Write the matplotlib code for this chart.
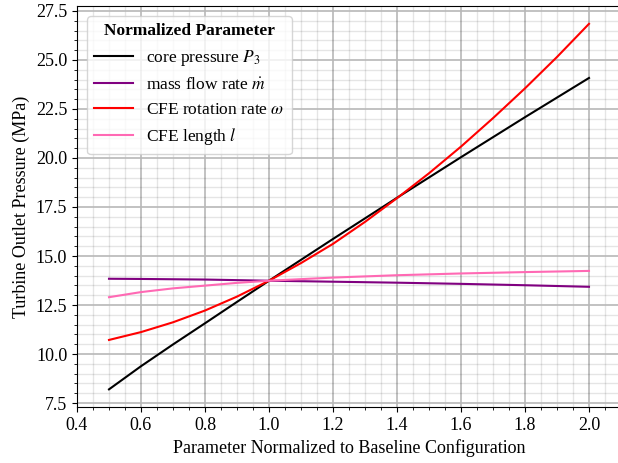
import numpy as np
import matplotlib
matplotlib.use("Agg")
import matplotlib.pyplot as plt
from matplotlib.ticker import MultipleLocator

plt.rcParams['font.family'] = ['Liberation Serif', 'DejaVu Serif']
plt.rcParams['mathtext.fontset'] = 'stix'

# values
x_p3 = [0.5, 0.6, 0.7, 0.8, 0.9, 1.0, 1.2, 1.4, 1.6, 1.8, 2.0]
p3 = [8.2, 9.38, 10.49, 11.57, 12.66, 13.74, 15.87, 17.97, 20.04, 22.08, 24.08]

x_mdot = [0.5, 0.6, 0.8, 1.0, 1.2, 1.4, 1.6, 1.8, 2.0]
mdot = [13.84, 13.83, 13.8, 13.74, 13.69, 13.64, 13.58, 13.51, 13.43]

x_omega = [0.5, 0.6, 0.7, 0.8, 0.9, 1.0, 1.1, 1.2, 1.3, 1.4, 1.5, 1.6,
           1.7, 1.8, 1.9, 2.0]
omega = [10.72, 11.12, 11.62, 12.22, 12.93, 13.74, 14.64, 15.62, 16.74, 17.95,
         19.22, 20.58, 22.03, 23.55, 25.15, 26.84]

x_len = [0.5, 0.6, 0.7, 0.8, 0.9, 1.0, 1.2, 1.4, 1.6, 1.8, 2.0]
length = [12.9, 13.16, 13.35, 13.49, 13.63, 13.74, 13.9, 14.02, 14.11, 14.18, 14.24]

fig = plt.figure(figsize=(6.18, 4.63), dpi=100)
ax = fig.add_axes([77/618, 1-407/463, 544/618, 401/463])

ax.plot(x_p3, p3, color='black', lw=1.5, label=r'core pressure $P_3$')
ax.plot(x_mdot, mdot, color='purple', lw=1.5, label=r'mass flow rate $\dot{m}$')
ax.plot(x_omega, omega, color='red', lw=1.5, label=r'CFE rotation rate $\omega$')
ax.plot(x_len, length, color='hotpink', lw=1.5, label=r'CFE length $l$')

ax.set_xlim(0.4, 2.1)
ax.set_ylim(7.3, 27.75)
ax.xaxis.set_major_locator(MultipleLocator(0.2))
ax.xaxis.set_minor_locator(MultipleLocator(0.05))
ax.yaxis.set_major_locator(MultipleLocator(2.5))
ax.yaxis.set_minor_locator(MultipleLocator(0.5))
ax.grid(which='major', color='#b8b8b8', lw=1.2)
ax.grid(which='minor', color='black', alpha=0.1, lw=1.0)
ax.set_axisbelow(True)
ax.tick_params(labelsize=13)

ax.set_xlabel('Parameter Normalized to Baseline Configuration', fontsize=13)
ax.set_ylabel('Turbine Outlet Pressure (MPa)', fontsize=13)

leg = ax.legend(loc='upper left', title='Normalized Parameter', fontsize=12.5,
                title_fontproperties={'weight': 'bold', 'size': 12.5},
                borderaxespad=0.6, handlelength=2.2)

fig.savefig('out.png', dpi=100)
